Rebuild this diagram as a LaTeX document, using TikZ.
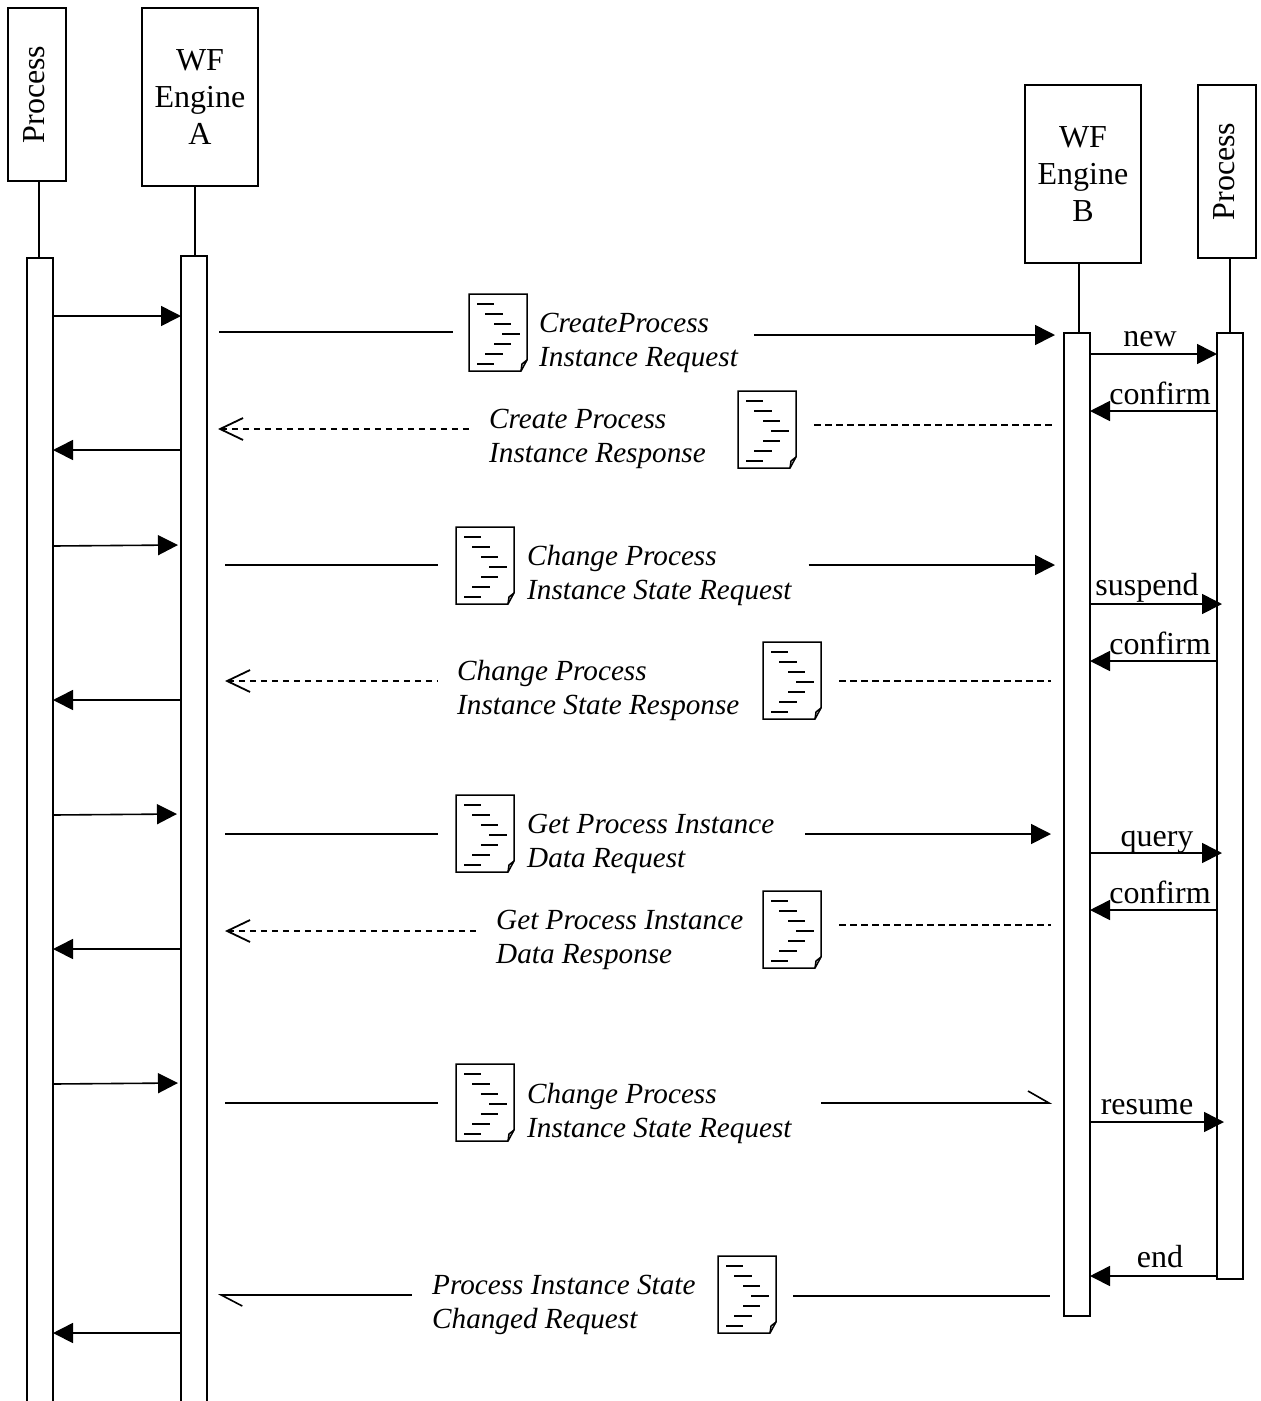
\documentclass[tikz,border=0pt]{standalone}
\usepackage{fontspec}
\setmainfont{Liberation Serif}
\usetikzlibrary{arrows.meta,positioning}
\tikzset{
  lane/.style={draw,line width=1.6pt,fill=white,inner sep=0pt,outer sep=0pt,minimum width=26pt},
  headbox/.style={draw,line width=1.6pt,fill=white,inner sep=0pt,outer sep=0pt,align=center,font=\fontsize{32}{37}\selectfont},
  line/.style={line width=1.6pt},
  arrow/.style={line,-{Triangle[length=20pt,width=20pt]}},
  reply/.style={line,dash pattern=on 6.5pt off 4.5pt},
  openarrow/.style={reply,{Straight Barb[length=23pt,width=22pt,line width=1.8pt,sep=0pt]}-},
  halfarrow/.style={line,-{Straight Barb[left,length=21pt,width=24pt,line width=1.6pt]}},
  halfback/.style={line,{Straight Barb[left,length=21pt,width=22pt,line width=1.6pt]}-},
  msg/.style={font=\fontsize{32}{34}\selectfont,inner sep=0pt},
  doctext/.style={font=\fontsize{29.2}{34}\selectfont\itshape,align=left,anchor=west,inner sep=0pt},
  docu/.style={minimum width=58pt,minimum height=77pt,inner sep=0pt,outer sep=0pt,anchor=north west}
}
\newcommand{\docsheet}[1]{%
  \begin{scope}[shift={(#1.north west)},line width=1.5pt]
    \draw (0,0)--(58,0)--(58,66)--(52,77)--(0,77)--cycle;
    \draw (52,77)--(53,70)--(58,66);
    \draw (8,10)--(25,10); \draw (16,20)--(34,20); \draw (25,30)--(42,30); \draw (33,40)--(51,40);
    \draw (25,50)--(42,50); \draw (16,60)--(34,60); \draw (8,70)--(25,70);
  \end{scope}}
\begin{document}
\begin{tikzpicture}[x=1pt,y=-1pt]
  \useasboundingbox (0,0) rectangle (1261,1401);
  % heads
  \node[headbox,anchor=north west,minimum width=58pt,minimum height=173pt] (procA) at (8,8) {\rotatebox{90}{Process\strut}};
  \node[headbox,anchor=north west,minimum width=116pt,minimum height=178pt] (engA) at (142,8) {WF\\Engine\\A};
  \node[headbox,anchor=north west,minimum width=116pt,minimum height=178pt] (engB) at (1025,85) {WF\\Engine\\B};
  \node[headbox,anchor=north west,minimum width=58pt,minimum height=173pt] (procB) at (1198,85) {\rotatebox{90}{Process\strut}};
  % bars
  \node[lane,anchor=north west,minimum height=1160pt] (barPa) at (27,258) {};
  \node[lane,anchor=north west,minimum height=1160pt] (barA) at (181,256) {};
  \node[lane,anchor=north west,minimum height=983pt] (barB) at (1064,333) {};
  \node[lane,anchor=north west,minimum height=946pt] (barPb) at (1217,333) {};
  \draw[line] (procA.south -| 39,0)--(barPa.north -| 39,0);
  \draw[line] (engA.south -| 195,0)--(barA.north -| 195,0);
  \draw[line] (engB.south -| 1079,0)--(barB.north -| 1079,0);
  \draw[line] (procB.south -| 1230,0)--(barPb.north -| 1230,0);
  % documents
  \node[docu] (doc1) at (469,294) {}; \docsheet{doc1}
  \node[docu] (doc2) at (738,391) {}; \docsheet{doc2}
  \node[docu] (doc3) at (456,527) {}; \docsheet{doc3}
  \node[docu] (doc4) at (763,642) {}; \docsheet{doc4}
  \node[docu] (doc5) at (456,795) {}; \docsheet{doc5}
  \node[docu] (doc6) at (763,891) {}; \docsheet{doc6}
  \node[docu] (doc7) at (456,1064) {}; \docsheet{doc7}
  \node[docu] (doc8) at (718,1256) {}; \docsheet{doc8}
  % document labels
  \node[doctext] (txt1) at (539,343) {CreateProcess\\Instance Request};
  \node[doctext] (txt2) at (489,439) {Create Process\\Instance Response};
  \node[doctext] (txt3) at (527,575) {Change Process\\Instance State Request};
  \node[doctext] (txt4) at (457,690) {Change Process\\Instance State Response};
  \node[doctext] (txt5) at (527,844) {Get Process Instance\\Data Request};
  \node[doctext] (txt6) at (496,940) {Get Process Instance\\Data Response};
  \node[doctext] (txt7) at (527,1113) {Change Process\\Instance State Request};
  \node[doctext] (txt8) at (432,1305) {Process Instance State\\Changed Request};
  % left side
  \draw[arrow] (barPa.east |- 0,316)--(barA.west |- 0,316);
  \draw[arrow] (barA.west |- 0,450)--(barPa.east |- 0,450);
  \draw[arrow] (barPa.east |- 0,546)--(178,545);
  \draw[arrow] (barA.west |- 0,700)--(barPa.east |- 0,700);
  \draw[arrow] (barPa.east |- 0,815)--(177,814);
  \draw[arrow] (barA.west |- 0,949)--(barPa.east |- 0,949);
  \draw[arrow] (barPa.east |- 0,1084)--(178,1083);
  \draw[arrow] (barA.west |- 0,1333)--(barPa.east |- 0,1333);
  % messages between engines
  \draw[line,shorten <=12pt,shorten >=16pt] (barA.east |- 0,332)--(doc1.west |- 0,332);
  \draw[arrow,shorten <=16pt,shorten >=9pt] (txt1.east |- 0,335)--(barB.west |- 0,335);
  \draw[openarrow,shorten <=11pt] (barA.east |- 0,429)--(470,429);
  \draw[reply,shorten >=12pt] (814,425)--(barB.west |- 0,425);
  \draw[line,shorten <=18pt,shorten >=18pt] (barA.east |- 0,565)--(doc3.west |- 0,565);
  \draw[arrow,shorten <=17pt,shorten >=9pt] (txt3.east |- 0,565)--(barB.west |- 0,565);
  \draw[openarrow,shorten <=18pt] (barA.east |- 0,681)--(438,681);
  \draw[reply,shorten >=13pt] (839,681)--(barB.west |- 0,681);
  \draw[line,shorten <=18pt,shorten >=18pt] (barA.east |- 0,834)--(doc5.west |- 0,834);
  \draw[arrow,shorten >=13pt] (805,834)--(barB.west |- 0,834);
  \draw[openarrow,shorten <=18pt] (barA.east |- 0,931)--(477,931);
  \draw[reply,shorten >=13pt] (839,925)--(barB.west |- 0,925);
  \draw[line,shorten <=18pt,shorten >=18pt] (barA.east |- 0,1103)--(doc7.west |- 0,1103);
  \draw[halfarrow,shorten >=12pt] (821,1103)--(barB.west |- 0,1103);
  \draw[halfback,shorten <=11pt] (barA.east |- 0,1295)--(412,1295);
  \draw[line,shorten >=14pt] (793,1296)--(barB.west |- 0,1296);
  % right side
  \draw[arrow] (barB.east |- 0,354)--(barPb.west |- 0,354);
  \draw[arrow] (barPb.west |- 0,411)--(barB.east |- 0,411);
  \draw[arrow] (barB.east |- 0,604)--(1222,604);
  \draw[arrow] (barPb.west |- 0,661)--(barB.east |- 0,661);
  \draw[arrow] (barB.east |- 0,853)--(1222,853);
  \draw[arrow] (barPb.west |- 0,910)--(barB.east |- 0,910);
  \draw[arrow] (barB.east |- 0,1122)--(1224,1122);
  \draw[arrow] (barPb.west |- 0,1276)--(barB.east |- 0,1276);
  \node[msg] (new) at (1150,339) {new};
  \node[msg] (conf1) at (1160,393) {confirm};
  \node[msg] (susp) at (1147,588) {suspend};
  \node[msg] (conf2) at (1160,643) {confirm};
  \node[msg] (query) at (1157,842) {query};
  \node[msg] (conf3) at (1160,892) {confirm};
  \node[msg] (resume) at (1147,1107) {resume};
  \node[msg] (end) at (1160,1257) {end};
\end{tikzpicture}
\end{document}
